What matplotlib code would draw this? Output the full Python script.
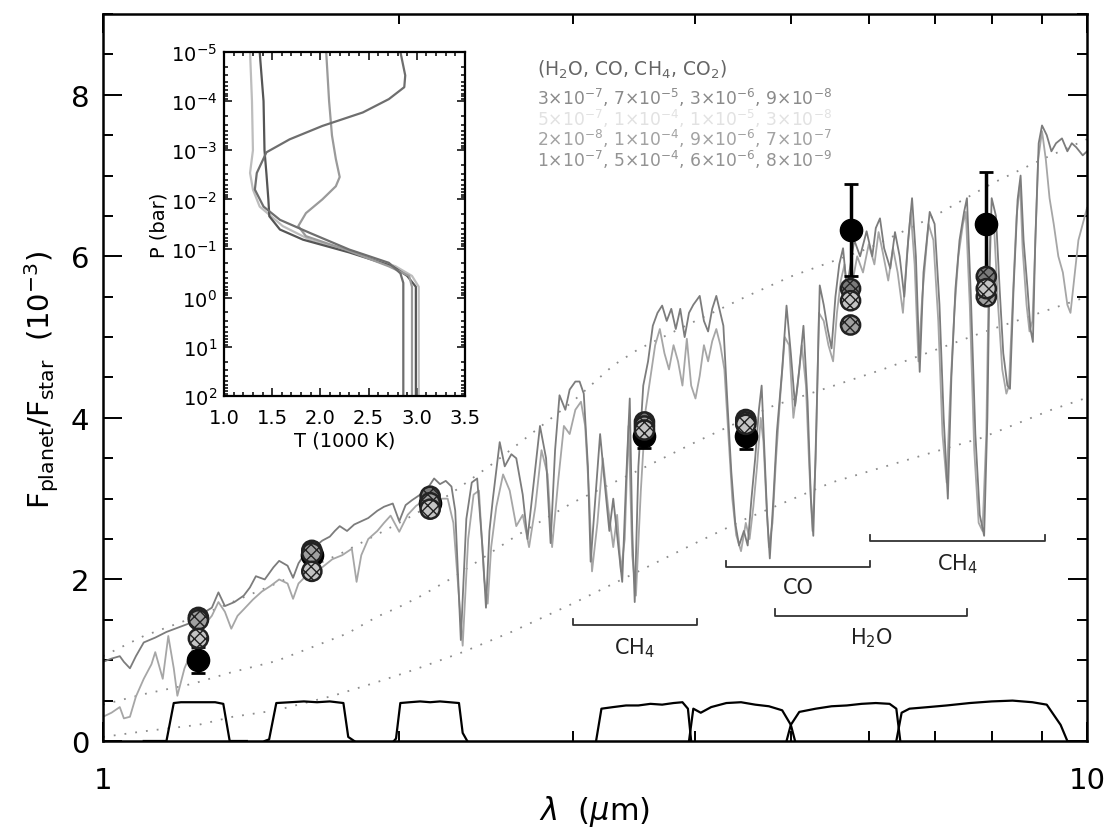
import matplotlib

matplotlib.use("Agg")
import matplotlib.pyplot as plt
from matplotlib.ticker import FixedLocator, LogLocator, MultipleLocator, NullFormatter

# model spectra, (wavelength um, Fp/Fs in 1e-3)
MODEL_A = [
    (1.00, 0.98), (1.02, 1.02), (1.04, 1.05), (1.05, 0.98), (1.065, 0.90), (1.08, 1.05),
    (1.10, 1.22), (1.13, 1.28), (1.16, 1.35), (1.19, 1.40), (1.22, 1.45), (1.25, 1.52),
    (1.27, 1.60), (1.29, 1.65), (1.31, 1.84), (1.33, 1.67), (1.36, 1.72), (1.39, 1.80),
    (1.41, 1.90), (1.43, 2.04), (1.46, 2.00), (1.49, 2.15), (1.51, 2.23), (1.54, 2.17),
    (1.56, 2.02), (1.58, 2.20), (1.61, 2.35), (1.64, 2.40), (1.67, 2.48), (1.70, 2.53),
    (1.72, 2.60), (1.74, 2.66), (1.77, 2.60), (1.80, 2.68), (1.83, 2.72), (1.86, 2.76),
    (1.90, 2.85), (1.93, 2.90), (1.97, 2.94), (2.00, 2.72), (2.03, 2.92), (2.06, 2.98),
    (2.10, 3.05), (2.13, 3.10), (2.17, 3.25), (2.20, 3.18), (2.23, 3.22), (2.26, 3.15),
    (2.28, 2.85), (2.31, 1.25), (2.34, 2.75), (2.37, 3.20), (2.40, 3.25), (2.43, 2.40),
    (2.45, 1.65), (2.47, 2.60), (2.49, 3.00), (2.53, 3.70), (2.56, 3.40), (2.60, 3.55),
    (2.63, 3.50), (2.67, 3.05), (2.70, 2.50), (2.74, 3.20), (2.78, 3.90), (2.82, 3.50),
    (2.85, 2.45), (2.88, 3.60), (2.91, 4.28), (2.95, 4.10), (2.98, 4.35), (3.02, 4.45),
    (3.05, 4.45), (3.08, 4.30), (3.11, 3.40), (3.13, 2.22), (3.16, 2.90), (3.20, 3.80),
    (3.24, 3.10), (3.27, 2.60), (3.30, 3.00), (3.34, 2.40), (3.37, 1.97), (3.40, 3.20),
    (3.43, 4.24), (3.45, 2.60), (3.47, 1.72), (3.50, 3.40), (3.54, 4.40), (3.58, 4.70),
    (3.62, 5.14), (3.66, 5.30), (3.70, 5.39), (3.74, 5.20), (3.78, 5.35), (3.82, 5.10),
    (3.86, 5.35), (3.90, 5.00), (3.94, 5.30), (3.98, 5.40), (4.04, 5.51), (4.08, 5.20),
    (4.12, 5.07), (4.16, 5.35), (4.20, 5.51), (4.24, 5.30), (4.27, 5.14), (4.31, 4.20),
    (4.35, 3.33), (4.39, 2.70), (4.43, 2.42), (4.48, 2.60), (4.52, 2.42), (4.56, 3.00),
    (4.60, 3.50), (4.64, 4.10), (4.67, 4.40), (4.70, 3.60), (4.73, 2.80), (4.76, 2.26),
    (4.80, 3.00), (4.84, 3.83), (4.90, 4.60), (4.95, 5.39), (5.00, 4.80), (5.05, 4.15),
    (5.10, 4.60), (5.15, 5.14), (5.20, 4.20), (5.24, 3.00), (5.27, 2.54), (5.31, 4.00),
    (5.35, 5.64), (5.40, 5.40), (5.45, 5.10), (5.50, 4.86), (5.55, 5.50), (5.60, 5.90),
    (5.65, 6.10), (5.70, 5.60), (5.75, 5.90), (5.80, 6.20), (5.88, 6.00), (5.97, 6.31),
    (6.05, 6.00), (6.10, 6.35), (6.16, 6.47), (6.22, 6.10), (6.31, 5.85), (6.38, 6.30),
    (6.45, 6.00), (6.52, 5.50), (6.58, 6.20), (6.64, 6.72), (6.70, 6.00), (6.76, 4.57),
    (6.82, 5.80), (6.92, 6.55), (7.00, 6.40), (7.08, 5.40), (7.15, 4.00), (7.22, 3.00),
    (7.28, 4.50), (7.35, 5.60), (7.42, 6.20), (7.50, 6.55), (7.55, 6.72), (7.62, 5.50),
    (7.70, 3.80), (7.78, 2.80), (7.86, 2.54), (7.92, 4.00), (7.96, 5.80), (8.00, 6.72),
    (8.08, 6.50), (8.15, 5.60), (8.22, 4.80), (8.30, 4.40), (8.35, 4.36), (8.42, 5.60),
    (8.50, 6.70), (8.56, 7.00), (8.62, 6.20), (8.70, 5.60), (8.76, 5.10), (8.81, 4.94),
    (8.86, 6.20), (8.93, 7.40), (9.00, 7.62), (9.10, 7.50), (9.20, 7.30), (9.30, 7.40),
    (9.43, 7.46), (9.55, 7.30), (9.65, 7.40), (9.75, 7.35), (9.90, 7.25), (10.0, 7.30),
]

MODEL_B = [
    (1.00, 0.30), (1.02, 0.35), (1.04, 0.42), (1.05, 0.28), (1.065, 0.30), (1.08, 0.55),
    (1.10, 0.77), (1.12, 0.95), (1.13, 1.10), (1.15, 0.77), (1.165, 1.30), (1.18, 0.90),
    (1.19, 0.56), (1.21, 0.90), (1.23, 1.10), (1.25, 1.30), (1.27, 1.45), (1.29, 1.55),
    (1.31, 1.72), (1.33, 1.60), (1.35, 1.39), (1.37, 1.55), (1.39, 1.63), (1.42, 1.75),
    (1.45, 1.85), (1.48, 1.92), (1.51, 2.00), (1.54, 1.95), (1.56, 1.76), (1.58, 1.95),
    (1.61, 2.05), (1.64, 2.10), (1.67, 2.15), (1.71, 2.25), (1.75, 2.30), (1.79, 2.38),
    (1.81, 1.97), (1.83, 2.30), (1.86, 2.50), (1.90, 2.60), (1.93, 2.70), (1.96, 2.79),
    (2.00, 2.59), (2.04, 2.80), (2.08, 2.91), (2.12, 2.98), (2.16, 3.04), (2.20, 3.00),
    (2.24, 3.00), (2.27, 2.70), (2.32, 1.18), (2.35, 2.50), (2.38, 3.05), (2.41, 3.10),
    (2.44, 2.00), (2.46, 1.70), (2.48, 2.40), (2.51, 2.90), (2.55, 3.30), (2.59, 3.10),
    (2.63, 2.66), (2.67, 2.80), (2.71, 2.40), (2.75, 2.90), (2.79, 3.60), (2.83, 3.30),
    (2.86, 2.40), (2.90, 3.20), (2.94, 3.90), (2.98, 3.80), (3.02, 4.10), (3.06, 4.20),
    (3.09, 3.90), (3.12, 3.00), (3.14, 2.10), (3.18, 2.70), (3.22, 3.50), (3.26, 2.90),
    (3.30, 2.40), (3.33, 2.80), (3.36, 2.10), (3.39, 2.50), (3.42, 3.90), (3.45, 2.30),
    (3.48, 1.80), (3.52, 3.10), (3.56, 4.10), (3.60, 4.50), (3.64, 4.90), (3.68, 5.10),
    (3.72, 4.80), (3.76, 4.60), (3.80, 4.90), (3.84, 4.70), (3.88, 4.40), (3.92, 4.98),
    (3.96, 4.40), (4.00, 4.24), (4.04, 4.52), (4.08, 4.90), (4.12, 4.70), (4.16, 4.95),
    (4.20, 5.10), (4.24, 4.90), (4.28, 4.60), (4.32, 3.80), (4.36, 3.00), (4.40, 2.55),
    (4.45, 2.35), (4.50, 2.70), (4.54, 2.50), (4.58, 2.90), (4.62, 3.40), (4.66, 4.00),
    (4.69, 3.70), (4.72, 3.00), (4.75, 2.40), (4.79, 2.70), (4.83, 3.50), (4.88, 4.30),
    (4.93, 5.00), (4.98, 4.90), (5.03, 4.00), (5.08, 4.40), (5.13, 4.90), (5.18, 4.40),
    (5.22, 3.40), (5.26, 2.60), (5.30, 3.50), (5.34, 5.30), (5.40, 5.20), (5.46, 4.90),
    (5.52, 4.70), (5.57, 5.30), (5.62, 5.70), (5.67, 5.90), (5.72, 5.40), (5.78, 5.70),
    (5.84, 6.00), (5.92, 5.80), (6.00, 6.15), (6.08, 5.90), (6.14, 6.30), (6.20, 6.05),
    (6.28, 5.70), (6.35, 6.10), (6.42, 5.80), (6.50, 5.30), (6.56, 6.00), (6.62, 6.55),
    (6.68, 5.90), (6.74, 4.70), (6.80, 5.50), (6.90, 6.40), (6.98, 6.20), (7.06, 5.20),
    (7.13, 3.80), (7.20, 3.20), (7.26, 4.30), (7.33, 5.30), (7.40, 6.00), (7.48, 6.40),
    (7.53, 6.55), (7.60, 5.40), (7.68, 3.60), (7.76, 2.70), (7.83, 2.60), (7.90, 3.80),
    (7.94, 5.50), (7.98, 6.50), (8.05, 6.30), (8.12, 5.40), (8.20, 4.60), (8.28, 4.30),
    (8.33, 4.40), (8.40, 5.40), (8.48, 6.50), (8.55, 6.90), (8.60, 6.10), (8.68, 5.40),
    (8.74, 5.07), (8.80, 5.20), (8.85, 6.00), (8.92, 7.20), (9.00, 7.55), (9.08, 7.20),
    (9.16, 6.72), (9.25, 6.40), (9.35, 6.00), (9.45, 5.80), (9.55, 5.40), (9.62, 5.30),
    (9.70, 5.70), (9.80, 6.20), (9.90, 6.40), (10.0, 6.60),
]

# blackbody ratios (dotted)
BB_HOT_WAVE = [1.0, 1.1, 1.2, 1.3, 1.5, 1.75, 2.0, 2.25, 2.5, 3.0, 3.3, 3.5, 4.0, 4.5, 5.0, 6.0, 7.0, 8.0, 9.0, 10.0]
BB_HOT_FLUX = [1.05, 1.30, 1.47, 1.63, 1.95, 2.33, 2.70, 3.05, 3.45, 4.20, 4.65, 4.85, 5.20, 5.50, 5.75, 6.10, 6.50, 6.90, 7.20, 7.45]
BB_MID_WAVE = [1.0, 1.1, 1.235, 1.35, 1.5, 1.63, 1.77, 1.9, 2.0, 2.1, 2.28, 2.63, 3.0, 3.5, 4.0, 4.8, 6.2, 7.8, 9.2, 10.0]
BB_MID_FLUX = [0.45, 0.58, 0.71, 0.85, 0.99, 1.16, 1.33, 1.54, 1.66, 1.79, 2.04, 2.54, 2.95, 3.35, 3.70, 4.15, 4.60, 5.05, 5.35, 5.50]
BB_COOL_WAVE = [1.0, 1.1, 1.25, 1.355, 1.5, 1.713, 1.9, 2.08, 2.32, 2.6, 3.0, 3.5, 4.0, 4.5, 5.5, 6.65, 7.8, 9.2, 10.0]
BB_COOL_FLUX = [0.05, 0.12, 0.20, 0.30, 0.38, 0.56, 0.73, 0.89, 1.10, 1.35, 1.70, 2.10, 2.45, 2.75, 3.20, 3.50, 3.75, 4.10, 4.25]

# filter transmission curves (arbitrary units)
FILTERS = {
    "J": ([1.10, 1.160, 1.180, 1.20, 1.25, 1.30, 1.325, 1.345, 1.40],
          [0, 0, 0.47, 0.48, 0.48, 0.48, 0.46, 0, 0]),
    "H": ([1.46, 1.475, 1.50, 1.55, 1.60, 1.65, 1.70, 1.755, 1.775, 1.80],
          [0, 0.02, 0.47, 0.48, 0.49, 0.48, 0.49, 0.47, 0.05, 0]),
    "Ks": ([1.975, 1.985, 2.005, 2.05, 2.10, 2.15, 2.20, 2.25, 2.30, 2.32, 2.345],
           [0, 0.03, 0.47, 0.48, 0.49, 0.48, 0.49, 0.48, 0.47, 0.10, 0]),
    "3.6": ([3.17, 3.21, 3.30, 3.40, 3.50, 3.60, 3.70, 3.80, 3.88, 3.93, 3.96],
            [0, 0.40, 0.42, 0.44, 0.44, 0.46, 0.45, 0.47, 0.48, 0.40, 0]),
    "4.5": ([3.94, 3.98, 4.05, 4.15, 4.30, 4.45, 4.60, 4.75, 4.90, 5.00, 5.05],
            [0, 0.40, 0.35, 0.42, 0.47, 0.48, 0.45, 0.43, 0.38, 0.20, 0]),
    "5.8": ([4.95, 5.00, 5.10, 5.30, 5.50, 5.70, 5.90, 6.10, 6.30, 6.40, 6.46],
            [0, 0.20, 0.36, 0.40, 0.43, 0.44, 0.46, 0.47, 0.46, 0.40, 0]),
    "8.0": ([6.40, 6.48, 6.60, 6.90, 7.20, 7.60, 8.00, 8.40, 8.80, 9.10, 9.40, 9.55],
            [0, 0.35, 0.40, 0.42, 0.44, 0.47, 0.49, 0.50, 0.48, 0.45, 0.20, 0]),
}

# observations and band-averaged models
BAND_WAVE = [1.25, 1.63, 2.15, 3.55, 4.5, 5.75, 7.9]
OBS_FLUX = [1.00, 2.30, 2.95, 3.78, 3.78, 6.33, 6.40]
OBS_ERR = [0.16, 0.10, 0.10, 0.15, 0.16, 0.57, 0.65]
BAND_MODEL_1 = [1.53, 2.36, 3.03, 3.95, 3.98, 5.60, 5.75]
BAND_MODEL_2 = [1.27, 2.10, 2.87, 3.85, 3.92, 5.45, 5.60]
BAND_MODEL_3 = [1.50, 2.33, 2.95, 3.90, 3.95, 5.15, 5.50]

# absorption features
FEATURE_NAMES = [r"CH$_4$", "CO", r"H$_2$O", r"CH$_4$"]
FEATURE_START = [3.0, 4.30, 4.82, 6.02]
FEATURE_END = [4.01, 6.02, 7.55, 9.06]
FEATURE_LEVEL = [1.43, 2.15, 1.55, 2.47]

# inset T-P profiles, (T in 1000 K, P in bar)
PROFILE_A = [(2.83, 1e-5), (2.88, 3.0e-5), (2.87, 5.2e-5), (2.71, 9.1e-5), (2.44, 1.7e-4),
             (2.02, 3.2e-4), (1.68, 6.0e-4), (1.44, 1.1e-3), (1.34, 2.9e-3), (1.32, 6.3e-3),
             (1.41, 1.4e-2), (1.58, 2.6e-2), (1.89, 4.8e-2), (2.30, 0.105), (2.71, 0.195),
             (2.83, 0.32), (2.86, 0.5), (2.86, 100)]
PROFILE_B = [(2.06, 1e-5), (2.09, 1e-4), (2.12, 5e-4), (2.16, 1.5e-3), (2.20, 3.5e-3),
             (2.16, 5.4e-3), (2.02, 1e-2), (1.85, 1.9e-2), (1.77, 3.5e-2), (1.85, 5.6e-2),
             (2.26, 0.105), (2.71, 0.23), (2.92, 0.36), (2.95, 0.6), (2.95, 100)]
PROFILE_C = [(1.37, 1e-5), (1.41, 1e-4), (1.42, 1e-3), (1.44, 3e-3), (1.46, 1e-2),
             (1.47, 2.2e-2), (1.58, 4.1e-2), (1.82, 6.6e-2), (2.30, 0.12), (2.75, 0.23),
             (2.90, 0.36), (2.99, 0.6), (2.99, 100)]
PROFILE_D = [(1.27, 1e-5), (1.29, 1e-4), (1.30, 1e-3), (1.27, 2.9e-3), (1.30, 6.3e-3),
             (1.37, 1.4e-2), (1.61, 3.5e-2), (1.89, 6.6e-2), (2.37, 0.12), (2.78, 0.23),
             (2.95, 0.36), (3.02, 0.6), (3.02, 100)]

# mixing ratios (H2O, CO, CH4, CO2) per model
ABUNDANCE_ROWS = [
    [("3", "-7"), ("7", "-5"), ("3", "-6"), ("9", "-8")],
    [("5", "-7"), ("1", "-4"), ("1", "-5"), ("3", "-8")],
    [("2", "-8"), ("1", "-4"), ("9", "-6"), ("7", "-7")],
    [("1", "-7"), ("5", "-4"), ("6", "-6"), ("8", "-9")],
]
ROW_COLORS = ["#8a8a8a", "#e2e2e2", "#a2a2a2", "#939393"]
PROFILE_COLORS = ["#6e6e6e", "#9a9a9a", "#555555", "#bdbdbd"]


def draw_main(ax):
    for wave, flux in [(BB_HOT_WAVE, BB_HOT_FLUX), (BB_MID_WAVE, BB_MID_FLUX),
                       (BB_COOL_WAVE, BB_COOL_FLUX)]:
        ax.plot(wave, flux, color="#8c8c8c", linestyle=(0, (1, 5)), linewidth=1.3, zorder=1)

    for model, color in [(MODEL_B, "#a6a6a6"), (MODEL_A, "#7c7c7c")]:
        wave, flux = zip(*model)
        ax.plot(wave, flux, color=color, linewidth=1.3, zorder=2)

    for wave, resp in FILTERS.values():
        ax.plot(wave, resp, color="black", linewidth=1.6, zorder=3)

    for name, x0, x1, y in zip(FEATURE_NAMES, FEATURE_START, FEATURE_END, FEATURE_LEVEL):
        ax.plot([x0, x0, x1, x1], [y + 0.08, y, y, y + 0.08], color="#333333", linewidth=1.3)
        ax.text((x0 * x1) ** 0.5, y - 0.12, name, ha="center", va="top", fontsize=15,
                color="#222222")

    ax.errorbar(BAND_WAVE, OBS_FLUX, yerr=OBS_ERR, fmt="o", color="black", ms=16,
                elinewidth=2.5, capsize=5, capthick=2, zorder=5)
    for vals, face in [(BAND_MODEL_1, "#7a7a7a"), (BAND_MODEL_3, "#a0a0a0"),
                       (BAND_MODEL_2, "#c4c4c4")]:
        ax.scatter(BAND_WAVE, vals, s=190, facecolor=face, edgecolor="#222222",
                   linewidth=1.8, hatch="xxx", zorder=6)

    ax.set_xscale("log")
    ax.set_xlim(1, 10)
    ax.set_ylim(0, 9)
    ax.xaxis.set_major_locator(FixedLocator([1, 10]))
    ax.set_xticklabels(["1", "10"])
    ax.xaxis.set_minor_locator(FixedLocator([2, 3, 4, 5, 6, 7, 8, 9]))
    ax.xaxis.set_minor_formatter(NullFormatter())
    ax.yaxis.set_major_locator(MultipleLocator(2))
    ax.yaxis.set_minor_locator(MultipleLocator(0.5))
    ax.tick_params(which="both", direction="in", top=True, right=True, width=1.4)
    ax.tick_params(which="major", length=14, labelsize=21)
    ax.tick_params(which="minor", length=7)
    ax.tick_params(axis="x", which="major", pad=18)
    ax.tick_params(axis="y", which="major", pad=10)
    for spine in ax.spines.values():
        spine.set_linewidth(1.8)


def draw_inset(ax):
    for profile, color in zip([PROFILE_D, PROFILE_C, PROFILE_B, PROFILE_A], PROFILE_COLORS[::-1]):
        temp, pres = zip(*profile)
        ax.plot(temp, pres, color=color, linewidth=1.6)
    ax.set_yscale("log")
    ax.set_xlim(1.0, 3.5)
    ax.set_ylim(1e2, 1e-5)
    ax.yaxis.set_major_locator(FixedLocator([1e-5, 1e-4, 1e-3, 1e-2, 1e-1, 1e0, 1e1, 1e2]))
    ax.yaxis.set_minor_locator(LogLocator(base=10, subs=range(2, 10), numticks=10))
    ax.yaxis.set_minor_formatter(NullFormatter())
    ax.xaxis.set_major_locator(MultipleLocator(0.5))
    ax.xaxis.set_minor_locator(MultipleLocator(0.1))
    ax.xaxis.set_major_formatter(plt.FormatStrFormatter("%.1f"))
    ax.tick_params(which="both", direction="in", top=True, right=True, width=1.1)
    ax.tick_params(which="major", length=6, labelsize=14)
    ax.tick_params(which="minor", length=3)
    ax.tick_params(axis="x", which="major", pad=9)
    ax.tick_params(axis="y", which="major", pad=5)
    ax.set_xlabel("T (1000 K)", fontsize=14, labelpad=2)
    ax.set_ylabel("P (bar)", fontsize=14, labelpad=2)
    for spine in ax.spines.values():
        spine.set_linewidth(1.6)


def main():
    fig = plt.figure(figsize=(11.09, 8.37), dpi=100)
    ax = fig.add_axes([0.0929, 0.1135, 0.8873, 0.8686])
    draw_main(ax)

    inset = fig.add_axes([0.2020, 0.5257, 0.2173, 0.4110])
    draw_inset(inset)

    fig.text(595 / 1109, 1 - 812 / 837, r"$\lambda$  ($\mu$m)", ha="center", va="center",
             fontsize=22)
    fig.text(42 / 1109, 1 - 380 / 837, r"F$_{\rm planet}$/F$_{\rm star}$  (10$^{-3}$)",
             ha="center", va="center", rotation=90, fontsize=21)

    fig.text(537 / 1109, 1 - 70 / 837, r"(H$_2$O, CO, CH$_4$, CO$_2$)", ha="left",
             va="center", fontsize=13.5, color="#666666")
    row_y = [98, 118.5, 139, 159.5]
    for row, color, y in zip(ABUNDANCE_ROWS, ROW_COLORS, row_y):
        label = ", ".join(rf"{m}$\times$10$^{{{e}}}$" for m, e in row)
        fig.text(537 / 1109, 1 - y / 837, label, ha="left", va="center", fontsize=12.3,
                 color=color)

    fig.savefig("out.png", dpi=100)
    plt.close(fig)


if __name__ == "__main__":
    main()
